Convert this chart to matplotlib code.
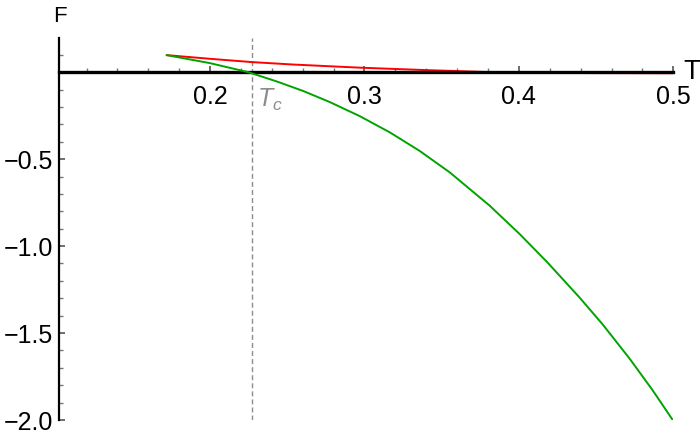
import matplotlib
matplotlib.use("Agg")
import matplotlib.pyplot as plt
from matplotlib.ticker import MultipleLocator, FixedLocator

plt.rcParams['font.family'] = ['Liberation Sans', 'DejaVu Sans']
plt.rcParams['mathtext.fontset'] = 'custom'
plt.rcParams['mathtext.it'] = 'Liberation Sans:italic'
plt.rcParams['mathtext.rm'] = 'Liberation Sans'

# Data
T_green = [0.1720, 0.2, 0.2248, 0.2431, 0.2603, 0.2776, 0.2970, 0.3164, 0.3358,
           0.3552, 0.3810, 0.4004, 0.4185, 0.4392, 0.4543, 0.4716, 0.4866, 0.4996]
F_green = [0.098, 0.052, 0.0, -0.053, -0.108, -0.172, -0.253, -0.346, -0.453,
           -0.576, -0.767, -0.930, -1.094, -1.295, -1.451, -1.646, -1.829, -2.0]

T_red = [0.1720, 0.2, 0.2272, 0.2539, 0.2970, 0.3401, 0.3616, 0.3789, 0.4047, 0.4478, 0.4996]
F_red = [0.098, 0.077, 0.058, 0.044, 0.026, 0.012, 0.006, 0.001, -0.003, -0.005, -0.006]

Tc = 0.2272
x_ticks = [0.2, 0.3, 0.4, 0.5]
x_ticklabels = ["0.2", "0.3", "0.4", "0.5"]
y_ticks = [-0.5, -1.0, -1.5, -2.0]
y_ticklabels = ["\u22120.5", "\u22121.0", "\u22121.5", "\u22122.0"]

fig = plt.figure(figsize=(7, 4.37), dpi=100)
ax = fig.add_axes([0.0839, 0.0389, 0.878, 0.8735])
ax.set_xlim(0.102, 0.5)
ax.set_ylim(-2.0, 0.195)

ax.plot(T_green, F_green, color='#00a300', lw=1.4, zorder=3)
ax.plot(T_red, F_red, color='#ff0000', lw=1.4, zorder=2)
ax.axvline(Tc, color='#8c8c8c', lw=1.0, ls=(0, (3.6, 2.2)), zorder=1)

for s in ['top', 'right']:
    ax.spines[s].set_visible(False)
ax.spines['bottom'].set_position(('data', 0))
ax.spines['bottom'].set_linewidth(2.4)
ax.spines['left'].set_linewidth(1.6)
ax.spines['bottom'].set_zorder(2.5)

ax.xaxis.set_major_locator(FixedLocator(x_ticks))
ax.set_xticklabels(x_ticklabels)
ax.xaxis.set_minor_locator(MultipleLocator(0.02))
ax.yaxis.set_major_locator(FixedLocator(y_ticks))
ax.set_yticklabels(y_ticklabels)
ax.yaxis.set_minor_locator(MultipleLocator(0.1))

ax.tick_params(axis='both', which='major', direction='in', length=4.5, width=1.2,
               color='#555555', labelsize=18)
ax.tick_params(axis='both', which='minor', direction='in', length=3, width=1.0,
               color='#777777')
ax.tick_params(axis='x', which='major', pad=9)
ax.tick_params(axis='y', which='major', pad=4)

ax.text(0.1025, 0.32, "F", fontsize=16, ha='center', va='center', clip_on=False)
ax.text(0.5063, 0.0, "T", fontsize=19.5, ha='left', va='center', clip_on=False)
ax.text(Tc + 0.0035, -0.085, "$T_c$", fontsize=18, color='#8c8c8c', ha='left', va='top')

fig.savefig("out.png", dpi=100)
